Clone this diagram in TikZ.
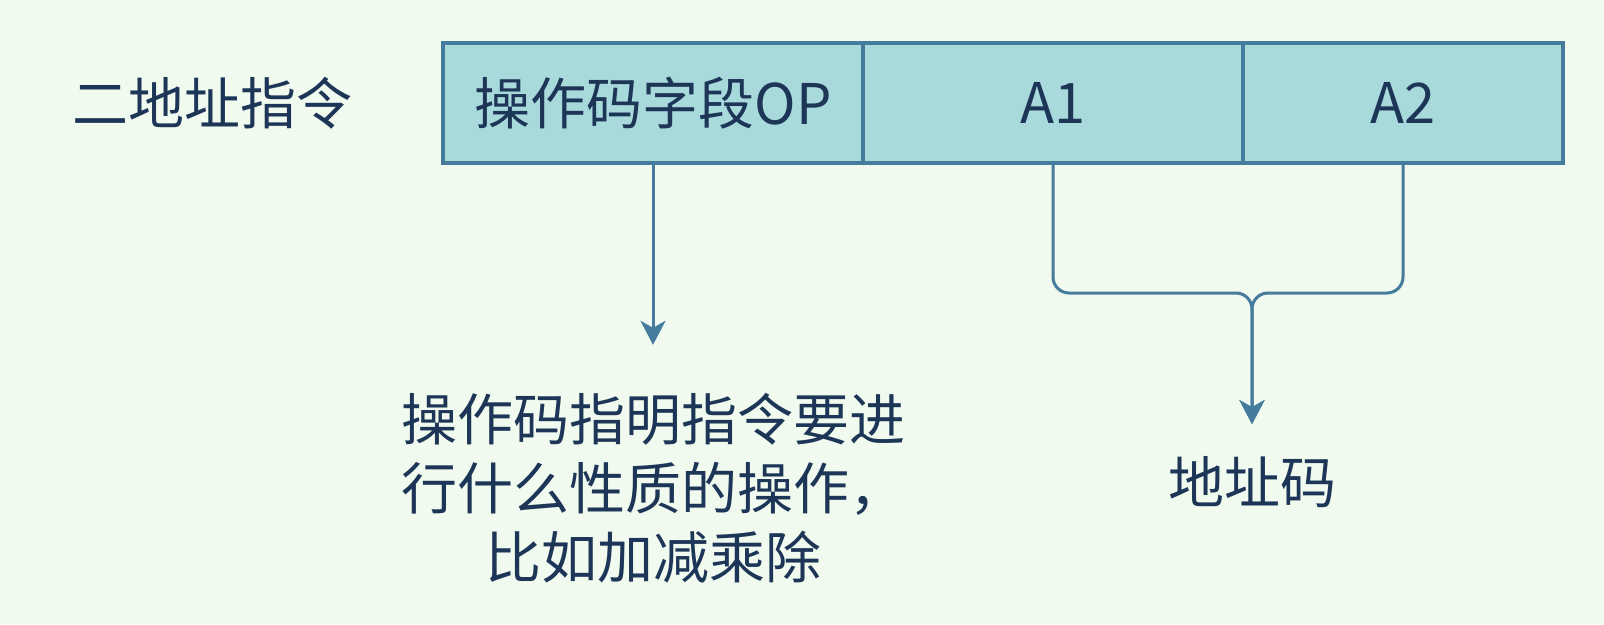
\documentclass[tikz,border=0pt]{standalone}
\usepackage{fontspec}
\setmainfont{Noto Sans CJK SC}
\usetikzlibrary{arrows.meta}
\definecolor{bgc}{HTML}{F1FAEE}
\definecolor{boxfill}{HTML}{A8DADC}
\definecolor{boxline}{HTML}{457B9D}
\definecolor{txt}{HTML}{1D3557}
\begin{document}
\begin{tikzpicture}[x=1pt,y=-1pt,
  field/.style={draw=boxline,fill=boxfill,line width=3.5pt,minimum height=120pt,inner sep=0pt,text=txt,font=\fontsize{56}{69}\selectfont},
  lbl/.style={text=txt,font=\fontsize{56}{69}\selectfont,align=center,inner sep=0pt},
  conn/.style={draw=boxline,line width=3pt},
  arr/.style={conn,-{Stealth[length=24pt,width=25pt,inset=7pt]}}]
\fill[bgc] (0,0) rectangle (1604,624);
\useasboundingbox (0,0) rectangle (1604,624);
\node[field,minimum width=420pt] (op) at (653,103) {操作码字段OP};
\node[field,minimum width=380pt] (a1) at (1053,103) {A1};
\node[field,minimum width=320pt] (a2) at (1403,103) {A2};
\node[lbl] (title) at (212,103) {二地址指令};
\node[lbl] (desc) at (653,488) {操作码指明指令要进\\行什么性质的操作，\\比如加减乘除};
\node[lbl] (code) at (1252,482) {地址码};
\coordinate (jy) at (0,293);
\coordinate (j) at (code.north |- jy);
\draw[arr,shorten >=48pt] (op.south -| desc.north) -- (desc.north);
\draw[arr,rounded corners=16pt,shorten >=32pt] (a1.south) |- (j) -- (code.north);
\draw[arr,rounded corners=16pt,shorten >=32pt] (a2.south) |- (j) -- (code.north);
\end{tikzpicture}
\end{document}
